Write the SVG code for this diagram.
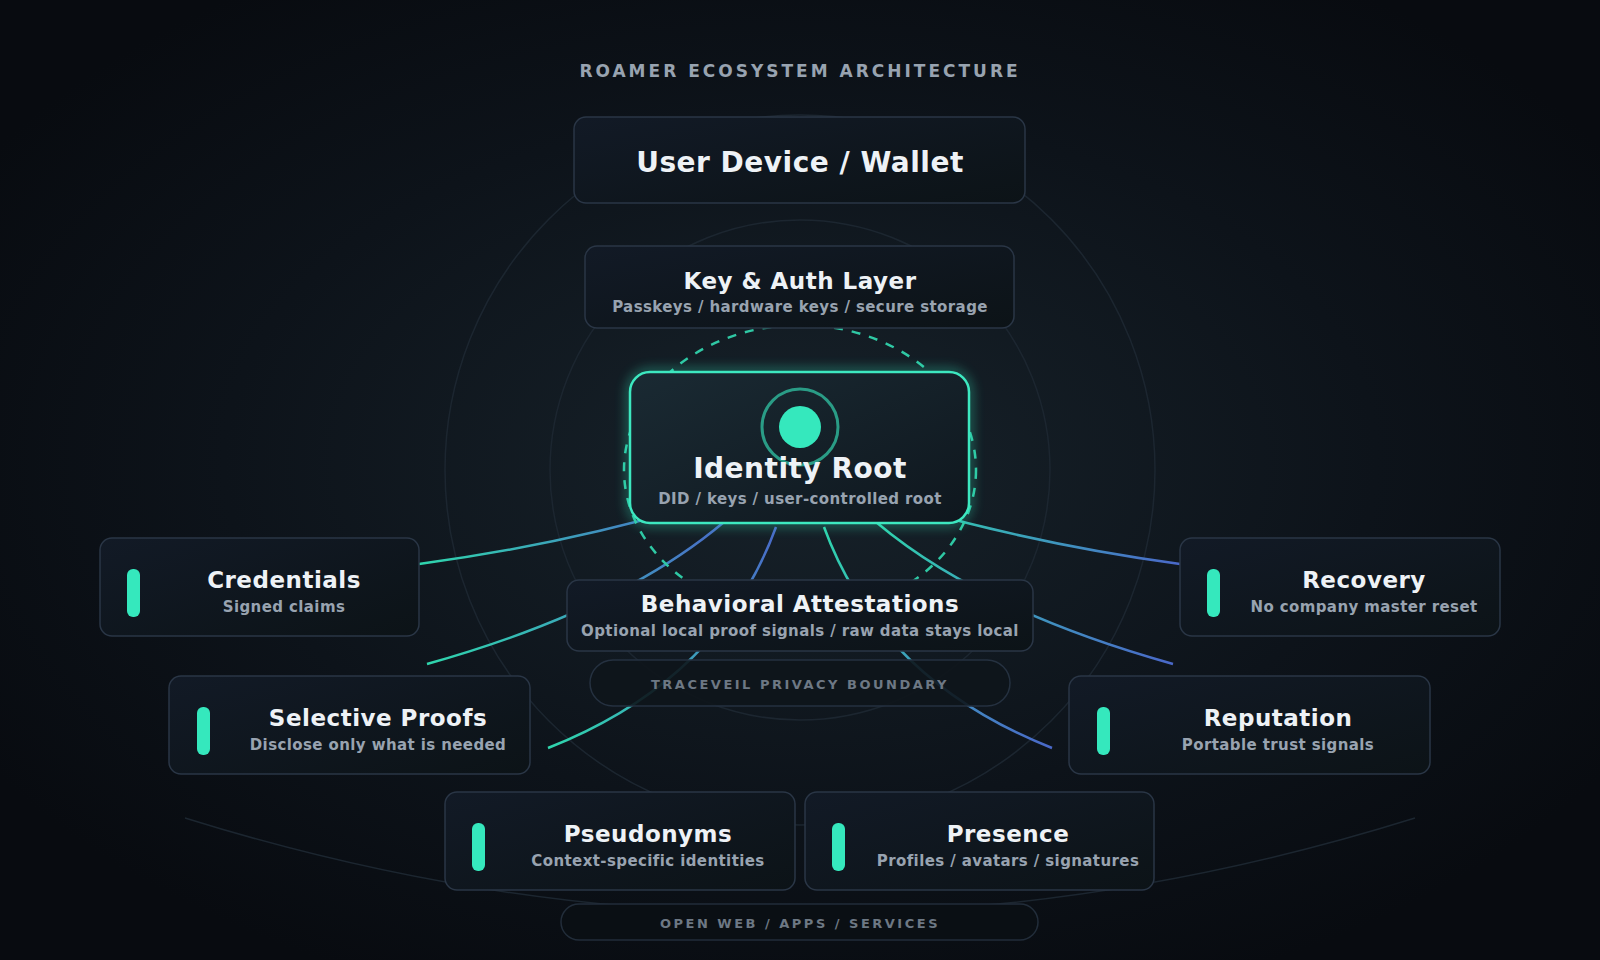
<svg xmlns="http://www.w3.org/2000/svg" width="1600" height="960" viewBox="0 0 1600 960">
<defs>
<radialGradient id="bg" cx="50%" cy="48%" r="60%"><stop offset="0" stop-color="#17222a"/><stop offset="0.6" stop-color="#0d131a"/><stop offset="1" stop-color="#080b10"/></radialGradient>
<linearGradient id="card" x1="0" y1="0" x2="1" y2="1"><stop offset="0" stop-color="#121a26"/><stop offset="1" stop-color="#0c1317"/></linearGradient>
<linearGradient id="root" x1="0" y1="0" x2="1" y2="1"><stop offset="0" stop-color="#1a2a33"/><stop offset="1" stop-color="#0f171e"/></linearGradient>
<linearGradient id="gL" x1="1" y1="0" x2="0" y2="1"><stop offset="0" stop-color="#4a68c9"/><stop offset="1" stop-color="#2fd6ad"/></linearGradient>
<linearGradient id="gR" x1="0" y1="0" x2="1" y2="1"><stop offset="0" stop-color="#2fd6ad"/><stop offset="1" stop-color="#4a68c9"/></linearGradient>
<filter id="glow" x="-20%" y="-20%" width="140%" height="140%"><feGaussianBlur stdDeviation="6"/></filter>
<style>
.card{fill:url(#card);stroke:#2a3646;stroke-width:1.5}
.t{font-family:"DejaVu Sans",sans-serif;font-weight:bold;fill:#eef2f6;text-anchor:middle;letter-spacing:0.5px}
.s{font-family:"DejaVu Sans",sans-serif;font-weight:bold;fill:#98a3b0;text-anchor:middle;font-size:15px;letter-spacing:0.4px}
.pill{fill:#35e8bd}
.c{fill:none;stroke-width:2.5}
.ring{fill:none;stroke:#1c2630;stroke-width:1.5}
.lab{font-family:"DejaVu Sans",sans-serif;font-weight:bold;fill:#6d7884;text-anchor:middle;font-size:13px;letter-spacing:2.5px}
</style>
</defs>
<rect width="1600" height="960" fill="url(#bg)"/>
<circle cx="800" cy="470" r="355" class="ring"/>
<circle cx="800" cy="470" r="250" class="ring"/>
<path d="M185 818 Q800 1010 1415 818" class="ring"/>
<text x="800" y="77" class="lab" style="font-size:17px;fill:#98a3b0;letter-spacing:3px">ROAMER ECOSYSTEM ARCHITECTURE</text>
<g id="connectors">
<path class="c" stroke="url(#gL)" d="M690 507 Q560 545 419 564"/>
<path class="c" stroke="url(#gL)" d="M724 522 Q620 610 427 664"/>
<path class="c" stroke="url(#gL)" d="M776 527 Q720 680 548 748"/>
<path class="c" stroke="url(#gR)" d="M908 507 Q1040 545 1180 564"/>
<path class="c" stroke="url(#gR)" d="M876 522 Q980 610 1173 664"/>
<path class="c" stroke="url(#gR)" d="M824 527 Q880 680 1052 748"/>
<ellipse cx="800" cy="470" rx="176" ry="145" fill="none" stroke="#2fc8a4" stroke-width="2.5" stroke-dasharray="9 9"/>
</g>
<g id="user-device"><rect x="574" y="117" width="451" height="86" rx="12" class="card"/><text x="800" y="172" class="t" font-size="28">User Device / Wallet</text></g>
<g id="key-auth"><rect x="585" y="246" width="429" height="82" rx="12" class="card"/><text x="800" y="289" class="t" font-size="23">Key &amp; Auth Layer</text><text x="800" y="312" class="s">Passkeys / hardware keys / secure storage</text></g>
<g id="identity-root">
<rect x="630" y="372" width="339" height="151" rx="20" fill="none" stroke="#35e8bd" stroke-width="6" opacity="0.5" filter="url(#glow)"/>
<rect x="630" y="372" width="339" height="151" rx="20" fill="url(#root)" stroke="#3de8c0" stroke-width="2.5"/>
<circle cx="800" cy="427" r="38" fill="none" stroke="#2a9c86" stroke-width="3"/>
<circle cx="800" cy="427" r="21" fill="#35e8bd"/>
<text x="800" y="478" class="t" font-size="28">Identity Root</text>
<text x="800" y="504" class="s">DID / keys / user-controlled root</text></g>
<g id="credentials"><rect x="100" y="538" width="319" height="98" rx="12" class="card"/><rect x="127" y="569" width="13" height="48" rx="6" class="pill"/><text x="284" y="588" class="t" font-size="23">Credentials</text><text x="284" y="612" class="s">Signed claims</text></g>
<g id="recovery"><rect x="1180" y="538" width="320" height="98" rx="12" class="card"/><rect x="1207" y="569" width="13" height="48" rx="6" class="pill"/><text x="1364" y="588" class="t" font-size="23">Recovery</text><text x="1364" y="612" class="s">No company master reset</text></g>
<g id="behavioral"><rect x="567" y="580" width="466" height="71" rx="12" class="card"/><text x="800" y="612" class="t" font-size="23">Behavioral Attestations</text><text x="800" y="636" class="s">Optional local proof signals / raw data stays local</text></g>
<g id="traceveil"><rect x="590" y="660" width="420" height="46" rx="23" fill="#0e151b" fill-opacity="0.9" stroke="#253140" stroke-width="1.5"/><text x="800" y="689" class="lab">TRACEVEIL PRIVACY BOUNDARY</text></g>
<g id="selective-proofs"><rect x="169" y="676" width="361" height="98" rx="12" class="card"/><rect x="197" y="707" width="13" height="48" rx="6" class="pill"/><text x="378" y="726" class="t" font-size="23">Selective Proofs</text><text x="378" y="750" class="s">Disclose only what is needed</text></g>
<g id="reputation"><rect x="1069" y="676" width="361" height="98" rx="12" class="card"/><rect x="1097" y="707" width="13" height="48" rx="6" class="pill"/><text x="1278" y="726" class="t" font-size="23">Reputation</text><text x="1278" y="750" class="s">Portable trust signals</text></g>
<g id="pseudonyms"><rect x="445" y="792" width="350" height="98" rx="12" class="card"/><rect x="472" y="823" width="13" height="48" rx="6" class="pill"/><text x="648" y="842" class="t" font-size="23">Pseudonyms</text><text x="648" y="866" class="s">Context-specific identities</text></g>
<g id="presence"><rect x="805" y="792" width="349" height="98" rx="12" class="card"/><rect x="832" y="823" width="13" height="48" rx="6" class="pill"/><text x="1008" y="842" class="t" font-size="23">Presence</text><text x="1008" y="866" class="s">Profiles / avatars / signatures</text></g>
<g id="open-web"><rect x="561" y="904" width="477" height="36" rx="18" fill="#0a0f14" stroke="#222d3a" stroke-width="1.5"/><text x="800" y="928" class="lab">OPEN WEB / APPS / SERVICES</text></g>
</svg>
